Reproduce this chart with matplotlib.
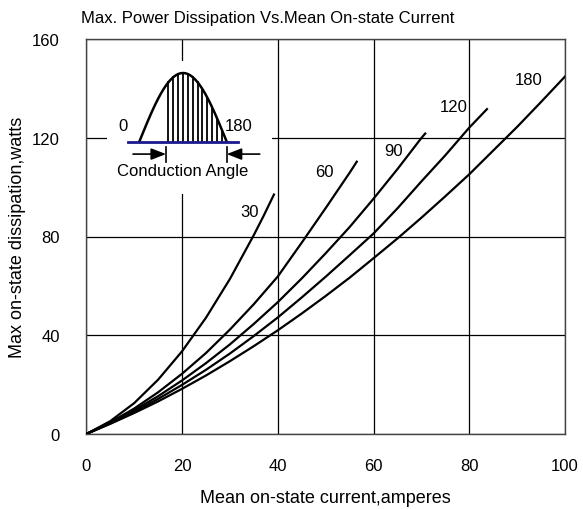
import numpy as np
import matplotlib
matplotlib.use("Agg")
import matplotlib.pyplot as plt
from matplotlib import font_manager

plt.rcParams["font.family"] = ["Liberation Sans", "DejaVu Sans"]

# curves: conduction angle -> (mean current A, max dissipation W)
ANGLES = ["30", "60", "90", "120", "180"]
X30 = [0, 5, 10, 15, 20, 25, 30, 35, 37, 39.2]
Y30 = [0, 5.2, 12.5, 22, 33.5, 47.1, 62.8, 80.6, 88.2, 97]
X60 = [0, 5, 10, 15, 20, 25, 30, 35, 40, 45, 50, 55, 56.5]
Y60 = [0, 4.7, 10.3, 16.9, 24.4, 32.8, 42.3, 52.6, 63.8, 77.5, 91.5, 105.8, 110.3]
X90 = [0, 5, 10, 15, 20, 25, 30, 35, 40, 45, 50, 55, 60, 65, 70, 70.8]
Y90 = [0, 4.5, 9.6, 15.3, 21.7, 28.7, 36.3, 44.6, 53.4, 63, 73.2, 83.8, 95.3, 107.3, 119.9, 121.7]
X120 = [0, 5, 10, 15, 20, 25, 30, 35, 40, 45, 50, 55, 60, 65, 70, 75, 80, 83.7]
Y120 = [0, 4.3, 9, 14.2, 19.9, 26, 32.6, 39.7, 47.2, 55.3, 63.7, 72.4, 81.2, 91.4, 102.3, 112.9, 124.1, 131.6]
X180 = [0, 5, 10, 15, 20, 25, 30, 35, 40, 45, 50, 55, 60, 65, 70, 75, 80, 85, 90, 95, 100]
Y180 = [0, 4.1, 8.5, 13.2, 18.3, 23.7, 29.5, 35.6, 42, 48.8, 55.9, 63.3, 71.2, 79.2, 87.6, 96.3, 105.2, 114.8, 124.4, 134.5, 144.8]
SERIES_X = [X30, X60, X90, X120, X180]
SERIES_Y = [Y30, Y60, Y90, Y120, Y180]
LABEL_POS = [(34.2, 90.1), (49.7, 106.3), (64.1, 114.8), (76.8, 132.7), (92.5, 143.6)]

XTICKS = [0, 20, 40, 60, 80, 100]
YTICKS = [0, 40, 80, 120, 160]

W, H = 583, 510
fig = plt.figure(figsize=(W / 100, H / 100), dpi=100)
ax = fig.add_axes([86.3 / W, 1 - 435 / H, (565 - 86.3) / W, (435 - 40) / H])

for xs, ys in zip(SERIES_X, SERIES_Y):
    ax.plot(xs, ys, color="black", linewidth=1.6, solid_joinstyle="round", zorder=3)
for name, (lx, ly) in zip(ANGLES, LABEL_POS):
    ax.text(lx, ly, name, fontsize=12, ha="center", va="center", zorder=4)

ax.set_xlim(0, 100)
ax.set_ylim(0, 160)
ax.set_xticks(XTICKS)
ax.set_yticks(YTICKS)
ax.tick_params(length=0, labelsize=12)
ax.tick_params(axis="y", pad=19)
ax.tick_params(axis="x", pad=17)
ax.grid(True, color="black", linewidth=0.9)
for s in ax.spines.values():
    s.set_color("#444444")
    s.set_linewidth(1.0)
ax.set_xlabel("Mean on-state current,amperes", fontsize=13, labelpad=12)
ax.set_ylabel("Max on-state dissipation,watts", fontsize=13, labelpad=4)

# narrow face for the title if it is installed
try:
    font_manager.findfont("Liberation Sans Narrow", fallback_to_default=False)
    title_family, title_size = ["Liberation Sans Narrow", "DejaVu Sans"], 12.5
except ValueError:
    title_family, title_size = ["Liberation Sans", "DejaVu Sans"], 12
fig.text(268 / W, 1 - 19 / H, "Max. Power Dissipation Vs.Mean On-state Current",
         fontsize=title_size, ha="center", va="center", family=title_family)

# inset sketch: conduction angle of a half sine wave
ins = fig.add_axes([107 / W, 1 - 195 / H, (271.7 - 107) / W, (195 - 62) / H], zorder=5)
ins.set_facecolor("white")
ins.set_xticks([])
ins.set_yticks([])
for s in ins.spines.values():
    s.set_visible(False)
ins.set_xlim(-66.5, 272.6)
ins.set_ylim(-0.761, 1.175)

deg = np.linspace(0, 180, 181)
ins.plot(deg, np.sin(np.radians(deg)), color="black", linewidth=1.8)
for d in range(60, 180, 10):
    ins.plot([d, d], [0, np.sin(np.radians(d))], color="black", linewidth=1.3)
ins.plot([-24, 204], [0, 0], color="#1a1a8c", linewidth=2)
ins.plot([55, 55], [-0.08, -0.30], color="black", linewidth=1.2)
ins.plot([180, 180], [-0.08, -0.30], color="black", linewidth=1.2)
ins.annotate("", xy=(55, -0.18), xytext=(-13, -0.18),
             arrowprops=dict(arrowstyle="-|>,head_length=0.9,head_width=0.35",
                             color="black", linewidth=1.2, shrinkA=0, shrinkB=0))
ins.annotate("", xy=(180, -0.18), xytext=(248, -0.18),
             arrowprops=dict(arrowstyle="-|>,head_length=0.9,head_width=0.35",
                             color="black", linewidth=1.2, shrinkA=0, shrinkB=0))
ins.text(90, -0.42, "Conduction Angle", fontsize=12, ha="center", va="center")
ins.text(-34, 0.23, "0", fontsize=12, ha="center", va="center")
ins.text(205, 0.23, "180", fontsize=12, ha="center", va="center")

fig.savefig("out.png", dpi=100)
